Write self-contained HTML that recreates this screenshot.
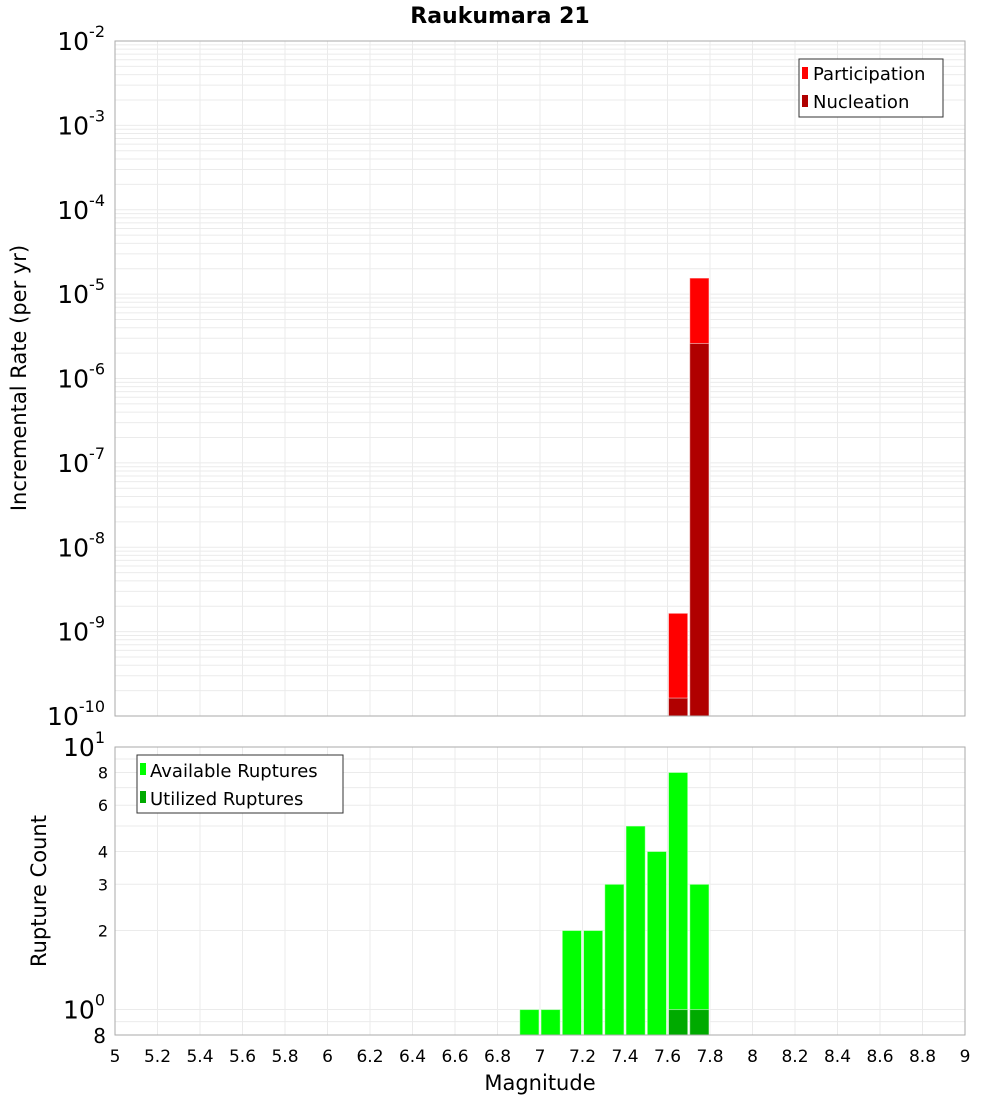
<!DOCTYPE html>
<html><head><meta charset="utf-8"><style>
body{margin:0;background:#fff;}
svg text{font-family:"DejaVu Sans","Liberation Sans",sans-serif;}
</style></head><body>
<svg id="chart" width="1000" height="1100" xmlns="http://www.w3.org/2000/svg">
<text x="500" y="23" text-anchor="middle" font-size="22" font-weight="bold">Raukumara 21</text>
<g id="gtop"></g>
<g id="gbot"></g>
<text transform="translate(26,378) rotate(-90)" text-anchor="middle" font-size="21">Incremental Rate (per yr)</text>
<text transform="translate(46,891) rotate(-90)" text-anchor="middle" font-size="21">Rupture Count</text>
<text x="540" y="1090" text-anchor="middle" font-size="21">Magnitude</text>
<g>
<rect x="799" y="59" width="144" height="58" fill="#fff" stroke="#333"/>
<rect x="802" y="67" width="6" height="12" fill="#ff0000"/>
<text x="813" y="80" font-size="18">Participation</text>
<rect x="802" y="95" width="6" height="12" fill="#b00000"/>
<text x="813" y="108" font-size="18">Nucleation</text>
</g>
<g>
<rect x="137" y="755" width="206" height="58" fill="#fff" stroke="#333"/>
<rect x="140" y="763" width="6" height="12" fill="#00ff00"/>
<text x="150" y="777" font-size="18">Available Ruptures</text>
<rect x="140" y="791" width="6" height="12" fill="#00aa00"/>
<text x="150" y="805" font-size="18">Utilized Ruptures</text>
</g>
</svg>
<script>
const rateMags=[7.65,7.75];
const participation=[1.65e-9,1.55e-5];
const nucleation=[1.63e-10,2.6e-6];
const countMags=[6.95,7.05,7.15,7.25,7.35,7.45,7.55,7.65,7.75];
const available=[1,1,2,2,3,5,4,8,3];
const utilizedMags=[7.65,7.75];
const utilized=[1,1];
const xTicks=[5,5.2,5.4,5.6,5.8,6,6.2,6.4,6.6,6.8,7,7.2,7.4,7.6,7.8,8,8.2,8.4,8.6,8.8,9];
const topExps=[-2,-3,-4,-5,-6,-7,-8,-9,-10];
const botTicks=[8,6,4,3,2];

const NS='http://www.w3.org/2000/svg';
const X0=115,X1=965;
const xs=m=>X0+(m-5)/4*(X1-X0);
const T0=41,T1=716, yt=v=>T0+(-2-Math.log10(v))/8*(T1-T0);
const B0=747,B1=1035, yb=v=>B0+(1-Math.log10(v))/(1-Math.log10(0.8))*(B1-B0);
function mk(p,tag,a){const e=document.createElementNS(NS,tag);for(const k in a)e.setAttribute(k,a[k]);p.appendChild(e);return e;}
const gTop=document.getElementById('gtop'),gBot=document.getElementById('gbot');
for(let e=-10;e<-2;e++)for(let d=1;d<10;d++){const y=yt(d*Math.pow(10,e));
 const l=mk(gTop,'line',{x1:X0,x2:X1,y1:y,y2:y,stroke:'#ebebeb','stroke-width':1});
 
 }
for(const v of [0.9,1,2,3,4,5,6,7,8,9]){const y=yb(v);
 const l=mk(gBot,'line',{x1:X0,x2:X1,y1:y,y2:y,stroke:'#ebebeb','stroke-width':1});
 
 }
xTicks.forEach(t=>{const x=xs(t);
 for(const [g,a,b] of [[gTop,T0,T1],[gBot,B0,B1]]){
 const l=mk(g,'line',{x1:x,x2:x,y1:a,y2:b,stroke:'#ebebeb','stroke-width':1});
 
 }
 const t2=mk(gBot,'text',{x:x,y:1062,'text-anchor':'middle','font-size':17});
 t2.textContent=String(t);
 
 
});
const bw=(X1-X0)/40;
function bar(g,m,y,base,col,name){const r=mk(g,'rect',{x:xs(m)-bw/2+1,y:y,width:bw-2,height:base-y,fill:col,stroke:'#fff','stroke-opacity':0.5});
 
 }
rateMags.forEach((m,i)=>bar(gTop,m,yt(participation[i]),T1,'#ff0000','participation-bar'));
rateMags.forEach((m,i)=>bar(gTop,m,yt(nucleation[i]),T1,'#b00000','nucleation-bar'));
countMags.forEach((m,i)=>bar(gBot,m,yb(available[i]),B1,'#00ff00','available-bar'));
utilizedMags.forEach((m,i)=>bar(gBot,m,yb(utilized[i]),B1,'#00aa00','utilized-bar'));
for(const [g,a,b] of [[gTop,T0,T1],[gBot,B0,B1]]){const f=mk(g,'rect',{x:X0,y:a,width:X1-X0,height:b-a,fill:'none',stroke:'#aaa'});
 
 }
topExps.forEach(e=>{const y=yt(Math.pow(10,e));
 const t=mk(gTop,'text',{x:105,y:y+9,'text-anchor':'end','font-size':25});
 t.innerHTML='10<tspan dy="-13" font-size="16">'+e+'</tspan>';
 
 });
function lbl(txt,v,html){const t=mk(gBot,'text',{x:html?105:108,y:yb(v)+(html?9:6),'text-anchor':'end','font-size':html?25:16});
 if(html)t.innerHTML=txt;else t.textContent=txt;
 
 }
lbl('10<tspan dy="-13" font-size="16">1</tspan>',10,true);
lbl('10<tspan dy="-13" font-size="16">0</tspan>',1,true);
botTicks.forEach(v=>lbl(String(v),v,false));
const e8=mk(gBot,'text',{x:106,y:1043,'text-anchor':'end','font-size':20});
e8.textContent='8';


</script>
</body></html>
